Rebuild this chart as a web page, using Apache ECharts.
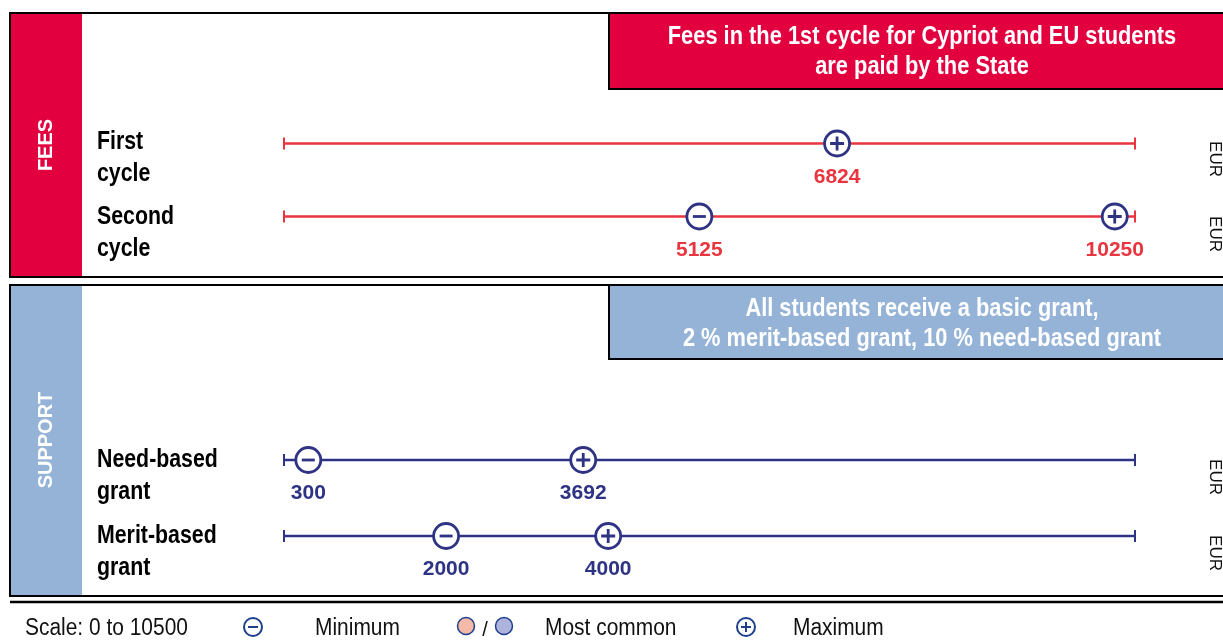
<!DOCTYPE html>
<html>
<head>
<meta charset="utf-8">
<script src="https://cdn.jsdelivr.net/npm/echarts@6/dist/echarts.min.js"></script>
<style>
  html, body { margin: 0; padding: 0; background: #fff; }
  #chart { width: 1223px; height: 643px; }
</style>
</head>
<body>
<div id="chart"></div>
<script>
"use strict";

// scale and data
const SCALE_MIN = 0;
const SCALE_MAX = 10500;

const feeRows = ["First\ncycle", "Second\ncycle"];
const feeMin = [null, 5125];
const feeMax = [6824, 10250];

const supportRows = ["Need-based\ngrant", "Merit-based\ngrant"];
const supportMin = [300, 2000];
const supportMax = [3692, 4000];

const sectionTitles = ["FEES", "SUPPORT"];
const feeNote = "Fees in the 1st cycle for Cypriot and EU students\nare paid by the State";
const supportNote = "All students receive a basic grant,\n2 % merit-based grant, 10 % need-based grant";
const unitLabel = "EUR";
const legendTexts = ["Scale: 0 to 10500", "Minimum", "Most common", "Maximum"];

const RED = "#e2003f";
const LINE_RED = "#e8353f";
const NAVY = "#2e3384";
const LEG_NAVY = "#1e3f8e";
const SUP_BLUE = "#95b3d7";
const SANS = "'Liberation Sans', Arial, sans-serif";

const PLUS = "path://M4,0H6V4H10V6H6V10H4V6H0V4H4Z";
const MINUS = "path://M0,0H10V2H0Z";

function rowSeries(gi, rows, mins, maxs, lineColor, labelColor) {
  const out = [];
  rows.forEach((r) => {
    out.push({
      type: "line", xAxisIndex: gi, yAxisIndex: gi,
      data: [[SCALE_MIN, r], [SCALE_MAX, r]],
      symbol: "rect", symbolSize: [2, 12], showSymbol: true,
      itemStyle: { color: lineColor, borderWidth: 0 },
      lineStyle: { color: lineColor, width: 2.4 },
      silent: true, z: 2,
    });
  });
  const mark = (vals, glyph, glyphSize) => {
    const pts = [];
    vals.forEach((v, i) => { if (v !== null) pts.push([v, rows[i]]); });
    out.push({
      type: "scatter", xAxisIndex: gi, yAxisIndex: gi, data: pts,
      symbol: "circle", symbolSize: 25, z: 3, silent: true,
      itemStyle: { color: "#fff", borderColor: NAVY, borderWidth: 2.8, opacity: 1 },
      label: {
        show: true, position: "bottom", distance: 9,
        formatter: (p) => String(p.value[0]),
        color: labelColor, fontSize: 21, fontWeight: "bold", fontFamily: SANS,
      },
    });
    out.push({
      type: "scatter", xAxisIndex: gi, yAxisIndex: gi, data: pts,
      symbol: glyph, symbolSize: glyphSize, z: 4, silent: true,
      itemStyle: { color: NAVY, opacity: 1 },
    });
  };
  mark(mins, MINUS, [13, 2.8]);
  mark(maxs, PLUS, 14);
  return out;
}

function yAxis(gi, rows) {
  return {
    type: "category", gridIndex: gi, data: rows, inverse: true,
    axisLine: { show: false }, axisTick: { show: false }, splitLine: { show: false },
    axisLabel: { show: false },
  };
}

function xAxis(gi) {
  return { type: "value", gridIndex: gi, min: SCALE_MIN, max: SCALE_MAX, show: false };
}

const chart = echarts.init(document.getElementById("chart"));

const txt = (x, y, text, style, extra) => ({
  type: "text", x, y, silent: true, ...(extra || {}),
  style: { text, ...style },
});

// condensed look: Liberation Sans squeezed horizontally
const narrow = (x, y, text, font, extraStyle, sx) =>
  txt(x, y, text, { font, ...extraStyle }, { scaleX: sx });

const rowLabelY = [158, 233, 476, 552];
const rowLabels = [...feeRows, ...supportRows];

const graphics = [
  // fees panel
  { type: "rect", shape: { x: 10, y: 13, width: 1240, height: 264 }, style: { fill: "#fff", stroke: "#000", lineWidth: 2 }, z: -10 },
  { type: "rect", shape: { x: 11, y: 14, width: 71, height: 262 }, style: { fill: RED }, z: -9 },
  { type: "rect", shape: { x: 609, y: 13, width: 700, height: 76 }, style: { fill: RED, stroke: "#000", lineWidth: 2 }, z: -9 },
  narrow(922, 52, feeNote, "bold 26px " + SANS, { fill: "#fff", lineHeight: 30, align: "center", verticalAlign: "middle" }, 0.84),
  txt(46, 145, sectionTitles[0], { fill: "#fff", font: "bold 20px " + SANS, align: "center", verticalAlign: "middle" }, { rotation: Math.PI / 2 }),
  // support panel
  { type: "rect", shape: { x: 10, y: 285, width: 1240, height: 311 }, style: { fill: "#fff", stroke: "#000", lineWidth: 2 }, z: -10 },
  { type: "rect", shape: { x: 11, y: 286, width: 71, height: 309 }, style: { fill: SUP_BLUE }, z: -9 },
  { type: "rect", shape: { x: 609, y: 285, width: 700, height: 74 }, style: { fill: SUP_BLUE, stroke: "#000", lineWidth: 2 }, z: -9 },
  narrow(922, 324, supportNote, "bold 26px " + SANS, { fill: "#fff", lineHeight: 30, align: "center", verticalAlign: "middle" }, 0.84),
  txt(46, 440, sectionTitles[1], { fill: "#fff", font: "bold 20px " + SANS, align: "center", verticalAlign: "middle" }, { rotation: Math.PI / 2 }),
  // row labels
  ...rowLabels.map((t, i) =>
    narrow(97, rowLabelY[i], t, "bold 26px " + SANS, { fill: "#000", lineHeight: 32, verticalAlign: "middle" }, 0.82)),
  // unit labels
  ...rowLabelY.map((y) =>
    txt(1215, y + 1, unitLabel, { fill: "#111", font: "17px " + SANS, align: "center", verticalAlign: "middle" }, { rotation: -Math.PI / 2 })),
  // separator
  { type: "line", shape: { x1: 10, y1: 602, x2: 1223, y2: 602 }, style: { stroke: "#000", lineWidth: 2.5 } },
  // legend
  narrow(25, 629, legendTexts[0], "23px " + SANS, { fill: "#111", verticalAlign: "middle" }, 0.91),
  { type: "circle", shape: { cx: 253, cy: 627, r: 9 }, style: { fill: "#fff", stroke: LEG_NAVY, lineWidth: 2 } },
  { type: "line", shape: { x1: 248, y1: 627, x2: 258, y2: 627 }, style: { stroke: LEG_NAVY, lineWidth: 2 } },
  narrow(315, 629, legendTexts[1], "23px " + SANS, { fill: "#111", verticalAlign: "middle" }, 0.91),
  { type: "circle", shape: { cx: 466, cy: 626, r: 8.5 }, style: { fill: "#f5b9a8", stroke: LEG_NAVY, lineWidth: 1.5 } },
  txt(485, 630, "/", { fill: "#111", font: "20px " + SANS, align: "center", verticalAlign: "middle" }),
  { type: "circle", shape: { cx: 504, cy: 626, r: 8.5 }, style: { fill: "#aeb3dd", stroke: LEG_NAVY, lineWidth: 1.5 } },
  narrow(545, 629, legendTexts[2], "23px " + SANS, { fill: "#111", verticalAlign: "middle" }, 0.91),
  { type: "circle", shape: { cx: 746, cy: 627, r: 9 }, style: { fill: "#fff", stroke: LEG_NAVY, lineWidth: 2 } },
  { type: "line", shape: { x1: 741, y1: 627, x2: 751, y2: 627 }, style: { stroke: LEG_NAVY, lineWidth: 2 } },
  { type: "line", shape: { x1: 746, y1: 622, x2: 746, y2: 632 }, style: { stroke: LEG_NAVY, lineWidth: 2 } },
  narrow(793, 629, legendTexts[3], "23px " + SANS, { fill: "#111", verticalAlign: "middle" }, 0.91),
];

chart.setOption({
  animation: false,
  backgroundColor: "#fff",
  grid: [
    { left: 284, right: 88, top: 107, height: 146, outerBoundsMode: "none" },
    { left: 284, right: 88, top: 422, height: 152, outerBoundsMode: "none" },
  ],
  xAxis: [xAxis(0), xAxis(1)],
  yAxis: [yAxis(0, feeRows), yAxis(1, supportRows)],
  graphic: graphics,
  series: [
    ...rowSeries(0, feeRows, feeMin, feeMax, LINE_RED, LINE_RED),
    ...rowSeries(1, supportRows, supportMin, supportMax, NAVY, NAVY),
  ],
});
</script>
</body>
</html>
